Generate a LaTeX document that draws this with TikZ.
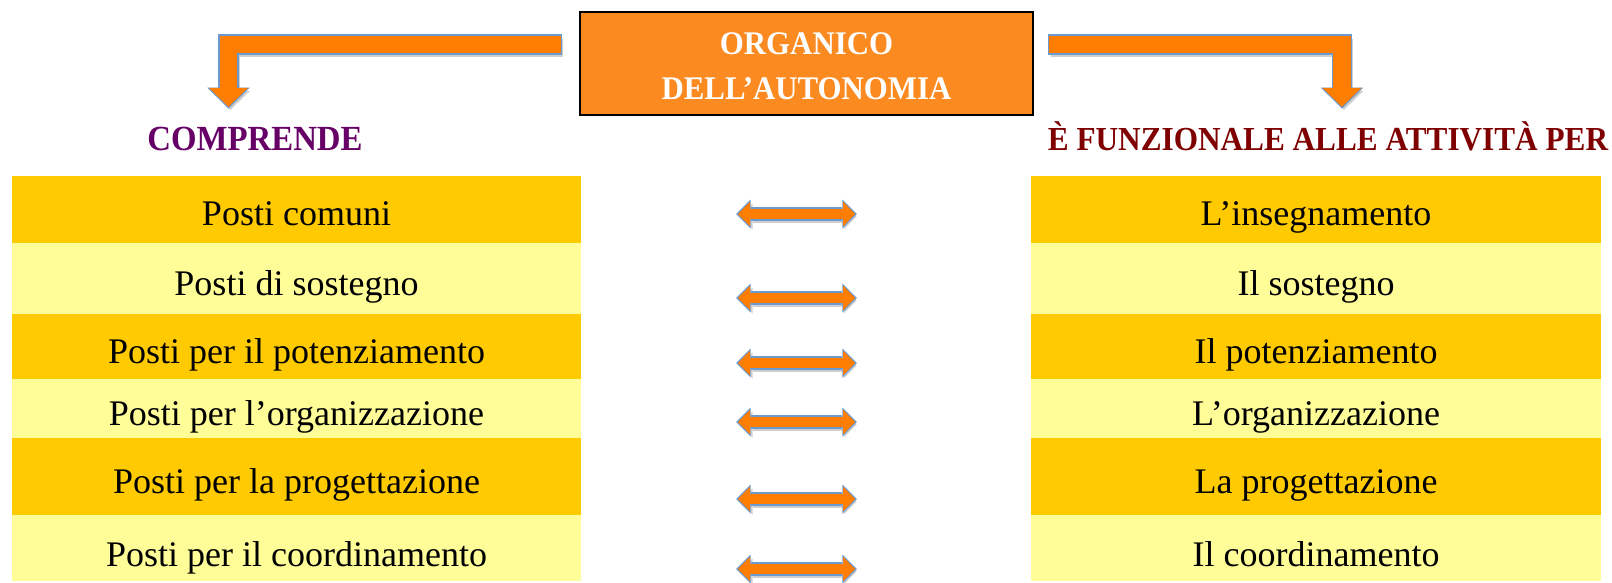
\documentclass[tikz,border=0pt]{standalone}
\usepackage{fontspec}
\setmainfont{Liberation Serif}
\newfontfamily\hdfont{Liberation Serif}[FakeStretch=0.93]
\newfontfamily\ttlfont{Liberation Serif}[FakeStretch=0.935]
\usetikzlibrary{arrows.meta}
\definecolor{rowdark}{HTML}{FFCB00}
\definecolor{rowlight}{HTML}{FFFD98}
\definecolor{ttlfill}{HTML}{FB8A20}
\definecolor{arrowor}{HTML}{FF7D00}
\definecolor{arrowbl}{HTML}{6A9AD0}
\definecolor{shadowgr}{HTML}{CFCFCF}
\definecolor{comppurple}{HTML}{660066}
\definecolor{funcred}{HTML}{7F0000}
\begin{document}
\begin{tikzpicture}[x=1pt,y=-1pt,
  rowbox/.style={rectangle, inner sep=0pt, font=\fontsize{36}{40}\selectfont},
  leftrow/.style={rowbox, minimum width=569pt},
  rightrow/.style={rowbox, minimum width=570pt},
  rowdk/.style={fill=rowdark},
  rowlt/.style={fill=rowlight},
  hdr/.style={inner sep=0pt, anchor=base, text height=22pt, text depth=0pt},
  ttlbox/.style={draw=black, line width=2.5pt, fill=ttlfill, minimum width=453pt,
    minimum height=103pt, inner sep=0pt, align=center, text=white,
    font=\ttlfont\bfseries\fontsize{33}{45}\selectfont},
  bent/.style={
    preaction={draw=shadowgr, line width=18pt, line join=miter,
      transform canvas={shift={(2pt,-3pt)}},
      arrows={-{Triangle[width=39pt,length=19pt,line width=0pt]}}},
    preaction={draw=arrowbl, line width=20.6pt, line join=miter,
      shorten >=-1.8pt, shorten <=-1.5pt,
      arrows={-{Triangle[width=42.5pt,length=21pt,line width=0pt]}}},
    draw=arrowor, line width=17.6pt, line join=miter,
    arrows={-{Triangle[width=39pt,length=19pt,line width=0pt]}}},
  dbl/.style={
    preaction={draw=shadowgr, line width=12pt,
      transform canvas={shift={(1.5pt,-2.5pt)}},
      arrows={{Triangle[width=26pt,length=13pt,line width=0pt]}-{Triangle[width=26pt,length=13pt,line width=0pt]}}},
    preaction={draw=arrowbl, line width=14pt,
      shorten >=-1.8pt, shorten <=-1.8pt,
      arrows={{Triangle[width=29pt,length=14.5pt,line width=0pt]}-{Triangle[width=29pt,length=14.5pt,line width=0pt]}}},
    draw=arrowor, line width=10.5pt,
    arrows={{Triangle[width=24.5pt,length=12pt,line width=0pt]}-{Triangle[width=24.5pt,length=12pt,line width=0pt]}}}
]
\useasboundingbox (0,0) rectangle (1612,582);

% title
\node[ttlbox] (ttl) at (806.5,63.5) {\rule{0pt}{28pt}ORGANICO\\DELL’AUTONOMIA};

% headers
\node[hdr, text=comppurple, font=\hdfont\bfseries\fontsize{35.3}{38}\selectfont] (comp) at (255,150.5) {COMPRENDE};
\node[hdr, text=funcred, font=\hdfont\bfseries\fontsize{33.6}{37}\selectfont] (func) at (1328,150) {È FUNZIONALE ALLE ATTIVITÀ PER};

% left table
\node[leftrow, rowdk, text height=49.7pt, text depth=17.3pt] (L1) at (296.5,209.5) {Posti comuni};
\node[leftrow, rowlt, text height=52pt, text depth=19pt] (L2) at (296.5,278.5) {Posti di sostegno};
\node[leftrow, rowdk, text height=49pt, text depth=16pt] (L3) at (296.5,346.5) {Posti per il potenziamento};
\node[leftrow, rowlt, text height=46pt, text depth=13pt] (L4) at (296.5,408.5) {Posti per l’organizzazione};
\node[leftrow, rowdk, text height=55pt, text depth=22pt] (L5) at (296.5,476.5) {Posti per la progettazione};
\node[leftrow, rowlt, text height=51pt, text depth=15pt] (L6) at (296.5,548) {Posti per il coordinamento};

% right table
\node[rightrow, rowdk, text height=49.7pt, text depth=17.3pt] (R1) at (1316,209.5) {L’insegnamento};
\node[rightrow, rowlt, text height=52pt, text depth=19pt] (R2) at (1316,278.5) {Il sostegno};
\node[rightrow, rowdk, text height=49pt, text depth=16pt] (R3) at (1316,346.5) {Il potenziamento};
\node[rightrow, rowlt, text height=46pt, text depth=13pt] (R4) at (1316,408.5) {L’organizzazione};
\node[rightrow, rowdk, text height=55pt, text depth=22pt] (R5) at (1316,476.5) {La progettazione};
\node[rightrow, rowlt, text height=51pt, text depth=15pt] (R6) at (1316,548) {Il coordinamento};

% bent arrows from title to headers
\draw[bent] ([shift={(-18,-19)}]ttl.west) -| ([shift={(-26.5,-21.5)}]comp.north);
\draw[bent] ([shift={(15,-19)}]ttl.east) -| ([shift={(14,-21)}]func.north);

% double arrows between rows
\draw[dbl] ([shift={(156.8,4.5)}]L1.east) -- ([shift={(-175.7,4.5)}]R1.west);
\draw[dbl] ([shift={(156.8,19.5)}]L2.east) -- ([shift={(-175.7,19.5)}]R2.west);
\draw[dbl] ([shift={(156.8,16.5)}]L3.east) -- ([shift={(-175.7,16.5)}]R3.west);
\draw[dbl] ([shift={(156.8,13.5)}]L4.east) -- ([shift={(-175.7,13.5)}]R4.west);
\draw[dbl] ([shift={(156.8,22.5)}]L5.east) -- ([shift={(-175.7,22.5)}]R5.west);
\draw[dbl] ([shift={(156.8,21)}]L6.east) -- ([shift={(-175.7,21)}]R6.west);
\end{tikzpicture}
\end{document}
